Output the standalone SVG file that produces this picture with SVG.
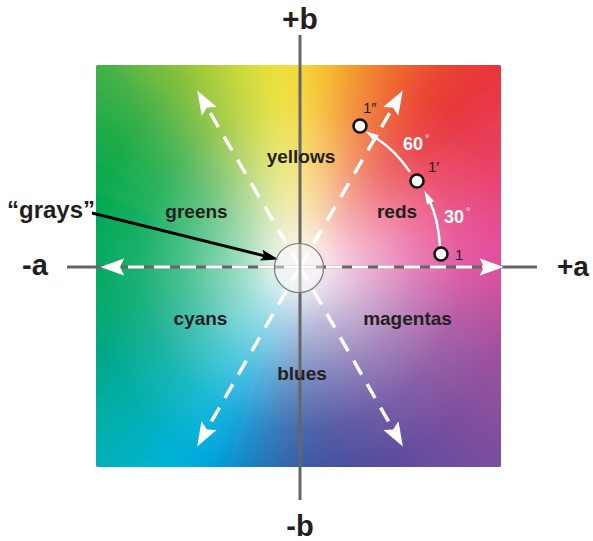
<svg xmlns="http://www.w3.org/2000/svg" width="593" height="541" viewBox="0 0 593 541">
<style>
.lbl{font-family:"Liberation Sans",Arial,sans-serif;font-weight:bold;font-size:19px;fill:#231f20;text-anchor:middle}
.ax{font-family:"Liberation Sans",Arial,sans-serif;font-weight:bold;fill:#231f20}
.pt{fill:#fff;stroke:#111;stroke-width:2.5}
.pl{font-family:"Liberation Sans",Arial,sans-serif;font-size:15px;fill:#231f20}
.deg{font-family:"Liberation Sans",Arial,sans-serif;font-weight:bold;font-size:18px;fill:#fff}
.axis{stroke:#666;stroke-width:3;fill:none}
.wd{stroke:#fff;stroke-width:3.5;stroke-dasharray:16 11;fill:none}
.hd{stroke:#fff;stroke-width:3;stroke-dasharray:16 10;fill:none}
</style>
<defs>
<clipPath id="sq"><rect x="96" y="65" width="405" height="402" rx="2"/></clipPath>
<filter id="bl" filterUnits="userSpaceOnUse" x="-200" y="-250" width="1000" height="1000"><feGaussianBlur stdDeviation="16"/></filter>
<radialGradient id="wh" gradientUnits="userSpaceOnUse" cx="300" cy="267" r="215">
<stop offset="0" stop-color="#f0f0f0" stop-opacity="0.94"/>
<stop offset="0.14" stop-color="#fff" stop-opacity="0.8"/>
<stop offset="0.28" stop-color="#fff" stop-opacity="0.6"/>
<stop offset="0.53" stop-color="#fff" stop-opacity="0.3"/>
<stop offset="0.75" stop-color="#fff" stop-opacity="0.1"/>
<stop offset="1" stop-color="#fff" stop-opacity="0"/>
</radialGradient>
<marker id="wa" markerUnits="userSpaceOnUse" markerWidth="24" markerHeight="18" refX="4" refY="8" orient="auto" viewBox="0 0 22 16">
<path d="M0,0 L22,8 L0,16 L4,8 z" fill="#fff"/>
</marker>
<marker id="sa" markerUnits="userSpaceOnUse" markerWidth="14" markerHeight="8" refX="1" refY="3.5" orient="auto" viewBox="0 0 12 7">
<path d="M0,0 L12,3.5 L0,7 z" fill="#fff"/>
</marker>
<marker id="ba" markerUnits="userSpaceOnUse" markerWidth="18" markerHeight="12" refX="3" refY="5" orient="auto" viewBox="0 0 16 10">
<path d="M0,0 L16,5 L0,10 L3,5 z" fill="#000"/>
</marker>
</defs>

<g id="colorspace" clip-path="url(#sq)">
<rect x="96" y="65" width="405" height="402" fill="#9a8a9a"/>
<g filter="url(#bl)">
<path d="M300,267 L720,267 L713.6,194.1 z" fill="#e5489a"/>
<path d="M300,267 L713.6,194.1 L694.7,123.4 z" fill="#e84688"/>
<path d="M300,267 L694.7,123.4 L663.7,57 z" fill="#e94370"/>
<path d="M300,267 L663.7,57 L621.7,-3 z" fill="#e93d55"/>
<path d="M300,267 L621.7,-3 L570,-54.7 z" fill="#e8353a"/>
<path d="M300,267 L570,-54.7 L510,-96.7 z" fill="#ea4530"/>
<path d="M300,267 L510,-96.7 L443.6,-127.7 z" fill="#ef6a2e"/>
<path d="M300,267 L443.6,-127.7 L372.9,-146.6 z" fill="#f4962c"/>
<path d="M300,267 L372.9,-146.6 L300,-153 z" fill="#f6c52e"/>
<path d="M300,267 L300,-153 L227.1,-146.6 z" fill="#f0e334"/>
<path d="M300,267 L227.1,-146.6 L156.4,-127.7 z" fill="#d2da38"/>
<path d="M300,267 L156.4,-127.7 L90,-96.7 z" fill="#a8cc3b"/>
<path d="M300,267 L90,-96.7 L30,-54.7 z" fill="#74be40"/>
<path d="M300,267 L30,-54.7 L-21.7,-3 z" fill="#40b148"/>
<path d="M300,267 L-21.7,-3 L-63.7,57 z" fill="#1cab4a"/>
<path d="M300,267 L-63.7,57 L-94.7,123.4 z" fill="#08aa4e"/>
<path d="M300,267 L-94.7,123.4 L-113.6,194.1 z" fill="#00a853"/>
<path d="M300,267 L-113.6,194.1 L-120,267 z" fill="#00a85a"/>
<path d="M300,267 L-120,267 L-113.6,339.9 z" fill="#00a862"/>
<path d="M300,267 L-113.6,339.9 L-94.7,410.6 z" fill="#00a872"/>
<path d="M300,267 L-94.7,410.6 L-63.7,477 z" fill="#00a98a"/>
<path d="M300,267 L-63.7,477 L-21.7,537 z" fill="#00ada2"/>
<path d="M300,267 L-21.7,537 L30,588.7 z" fill="#00b0b8"/>
<path d="M300,267 L30,588.7 L90,630.7 z" fill="#00b2d4"/>
<path d="M300,267 L90,630.7 L156.4,661.7 z" fill="#00a6df"/>
<path d="M300,267 L156.4,661.7 L227.1,680.6 z" fill="#0b7fc4"/>
<path d="M300,267 L227.1,680.6 L300,687 z" fill="#2c62aa"/>
<path d="M300,267 L300,687 L372.9,680.6 z" fill="#3d4f9d"/>
<path d="M300,267 L372.9,680.6 L443.6,661.7 z" fill="#4a4c9d"/>
<path d="M300,267 L443.6,661.7 L510,630.7 z" fill="#5a4c9e"/>
<path d="M300,267 L510,630.7 L570,588.7 z" fill="#6b4d9e"/>
<path d="M300,267 L570,588.7 L621.7,537 z" fill="#7a4e9e"/>
<path d="M300,267 L621.7,537 L663.7,477 z" fill="#8a4f9e"/>
<path d="M300,267 L663.7,477 L694.7,410.6 z" fill="#9c4f9e"/>
<path d="M300,267 L694.7,410.6 L713.6,339.9 z" fill="#b64e9e"/>
<path d="M300,267 L713.6,339.9 L720,267 z" fill="#d24b9d"/>
</g>
<rect x="96" y="65" width="405" height="402" fill="url(#wh)"/>
</g>

<g id="connectors">
<line class="axis" x1="67" y1="267" x2="537" y2="267"/>
<line class="hd" x1="300" y1="267" x2="484" y2="267" marker-end="url(#wa)"/>
<line class="hd" x1="300" y1="267" x2="120" y2="267" marker-end="url(#wa)"/>
<line class="wd" x1="300" y1="267" x2="392.9" y2="107.5" marker-end="url(#wa)"/>
<line class="wd" x1="300" y1="267" x2="207.1" y2="107.5" marker-end="url(#wa)"/>
<line class="wd" x1="300" y1="267" x2="206.9" y2="429.4" marker-end="url(#wa)"/>
<line class="wd" x1="300" y1="267" x2="393.1" y2="429.4" marker-end="url(#wa)"/>
<line class="axis" x1="300" y1="35" x2="300" y2="500"/>
<path d="M440,246 Q438,218 430,202" stroke="#fff" stroke-width="2.5" fill="none" marker-end="url(#sa)"/>
<path d="M410,172 Q395,150 376,138" stroke="#fff" stroke-width="2.5" fill="none" marker-end="url(#sa)"/>
<line x1="92" y1="213" x2="264.4" y2="255.9" stroke="#000" stroke-width="3" marker-end="url(#ba)"/>
</g>

<g id="grays-circle"><circle cx="299" cy="268" r="24.5" fill="#fff" fill-opacity="0.45" stroke="#777" stroke-width="1.2"/></g>

<g id="axis-labels">
<text class="ax" x="300" y="29" font-size="30" text-anchor="middle">+b</text>
<text class="ax" x="300" y="536" font-size="29" text-anchor="middle">-b</text>
<text class="ax" x="22" y="275" font-size="29">-a</text>
<text class="ax" x="557" y="276" font-size="28">+a</text>
</g>

<g id="region-labels">
<text class="lbl" x="301" y="163">yellows</text>
<text class="lbl" x="196.5" y="218">greens</text>
<text class="lbl" x="397" y="218">reds</text>
<text class="lbl" x="200.5" y="325">cyans</text>
<text class="lbl" x="407.5" y="325">magentas</text>
<text class="lbl" x="302" y="380">blues</text>
</g>

<g id="grays-label"><text class="ax" x="7" y="218" font-size="24">“grays”</text></g>

<g id="point-1"><circle class="pt" cx="441" cy="254" r="6.5"/><text class="pl" x="455" y="260">1</text></g>
<g id="point-1p"><circle class="pt" cx="417" cy="181" r="6.5"/><text class="pl" x="428" y="172">1′</text></g>
<g id="point-1pp"><circle class="pt" cx="360" cy="126" r="6.5"/><text class="pl" x="363" y="113">1″</text></g>

<g id="angle-labels">
<text class="deg" x="403" y="150">60<tspan font-size="11" font-weight="normal" dx="2" dy="-8">°</tspan></text>
<text class="deg" x="444" y="223">30<tspan font-size="11" font-weight="normal" dx="2" dy="-8">°</tspan></text>
</g>
</svg>
